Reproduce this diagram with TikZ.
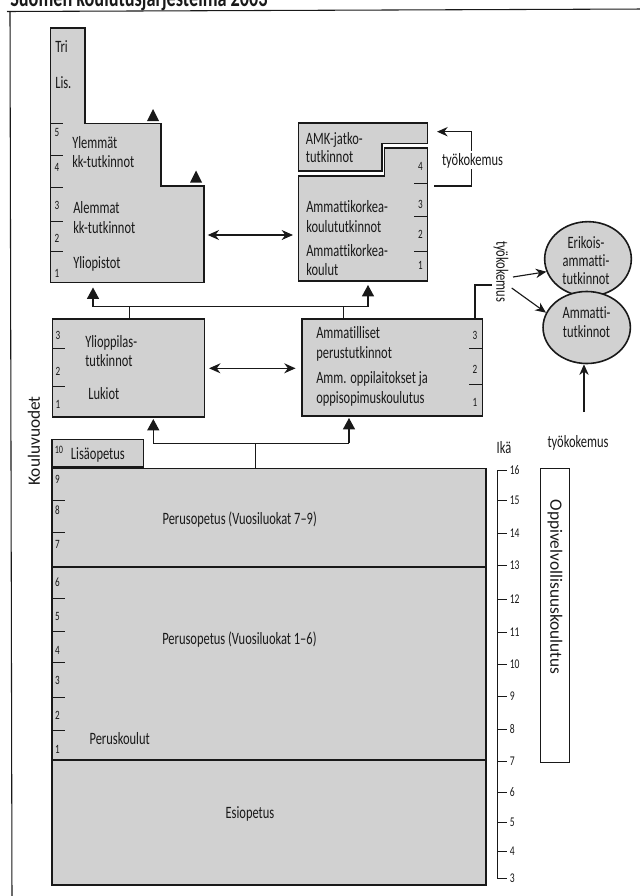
\documentclass[tikz,border=0pt]{standalone}
\usepackage{fontspec}
\setmainfont{Carlito}[FakeStretch=0.72,Ligatures=NoCommon]
\newfontfamily\widefont{Carlito}[Ligatures=NoCommon]
\usetikzlibrary{arrows.meta,shapes.geometric,fit}
\definecolor{boxfill}{gray}{0.82}
\definecolor{ink}{gray}{0.1}
\begin{document}
\begin{tikzpicture}[x=0.75pt,y=-0.75pt,
  blockline/.style={draw=ink,line width=1.2pt,fill=boxfill},
  boxnode/.style={blockline,inner sep=0pt},
  conn/.style={draw=ink,line width=0.85pt},
  uptri/.style={-{Triangle[length=8.5pt,width=9pt]}},
  arr/.style={-{Stealth[length=8pt,width=7pt]}},
  dbl/.style={{Stealth[length=8.5pt,width=7.5pt]}-{Stealth[length=8.5pt,width=7.5pt]}},
  lbl/.style={font=\fontsize{13}{14}\selectfont,text=ink,inner sep=0pt,anchor=west,text height=9pt,text depth=1pt},
  num/.style={font=\fontsize{9.5}{10}\selectfont,text=ink,inner sep=0pt,text height=6.3pt,text depth=0pt},
  yrtick/.style={draw=ink,line width=0.6pt},
]
\useasboundingbox (0,0) rectangle (639,896);

% title and frame
\node[anchor=base west,inner sep=0pt,text=ink,font=\bfseries\fontsize{19}{21}\selectfont] (title) at (10,6) {Suomen koulutusjärjestelmä 2003};
\draw[ink,line width=0.8pt] (7,11.5) -- (645,9);
\draw[ink,line width=0.8pt] (10,11.5) -- (12,900);

% Yliopistot block
\draw[blockline] (50.5,28) -- (85,28) -- (85,123.3) -- (160.7,123.3) -- (160.7,186) -- (203.7,186) -- (203.7,282.3) -- (50.5,282.3) -- cycle;
\coordinate (yliR) at (203.7,235);
\foreach \y in {123.3,155.7,187.7,221.7,251} \draw[yrtick] (50.5,\y) -- (63,\y);
\foreach \n/\y in {5/132,4/167,3/205,2/238,1/273} \node[num] at (57,\y) {\n};
\node[lbl] (tri) at (55,47) {Tri};
\node[lbl] (lis) at (55,83) {Lis.};
\node[lbl] (yl1) at (72,142.7) {Ylemmät};
\node[lbl] (yl2) at (72,162) {kk-tutkinnot};
\node[lbl] (al1) at (73,208) {Alemmat};
\node[lbl] (al2) at (73,227.7) {kk-tutkinnot};
\node[lbl] (yliop) at (73,263) {Yliopistot};
\fill[ink] (147,121) -- (159,121) -- (153,109) -- cycle;
\fill[ink] (190,182.5) -- (202,182.5) -- (196,170.5) -- cycle;

% AMK blocks
\draw[blockline] (298.3,122.7) -- (427.3,122.7) -- (427.3,143.3) -- (381.7,143.3) -- (381.7,171) -- (298.3,171) -- cycle;
\draw[blockline] (298.3,176) -- (384.3,176) -- (384.3,147.7) -- (427.3,147.7) -- (427.3,281) -- (298.3,281) -- cycle;
\coordinate (amkL) at (298.3,235);
\foreach \y in {183.3,216.7,251.7} \draw[yrtick] (414,\y) -- (427.3,\y);
\foreach \n/\y in {4/166,3/204,2/234,1/265.7} \node[num] at (420.5,\y) {\n};
\node[lbl] (amkj1) at (305.7,139) {AMK-jatko-};
\node[lbl] (amkj2) at (305.7,157) {tutkinnot};
\node[lbl] (amk1) at (306,207) {Ammattikorkea-};
\node[lbl] (amk2) at (306,226.7) {koulututkinnot};
\node[lbl] (amk3) at (306,251) {Ammattikorkea-};
\node[lbl] (amk4) at (306,270) {koulut};

\draw[conn,dbl] ([xshift=3pt]yliR) -- ([xshift=-4pt]amkL);

% top tyokokemus bracket
\coordinate (bk1) at (434,186);
\coordinate (bk2) at (471.5,186);
\coordinate (bk3) at (471.5,131.7);
\coordinate (bk4) at (437,131.7);
\draw[conn,arr] (bk1) -- (bk2) -- (bk3) -- (bk4);
\node[lbl,anchor=center,fill=white,inner sep=1.5pt] (tk1) at (472.5,160) {työkokemus};

% middle row
\node[boxnode,fit={(52.3,319) (204.3,416.7)}] (lukiot) {};
\node[boxnode,fit={(301.7,319) (482.3,416)}] (ammat) {};
\foreach \y in {348.3,386} \draw[yrtick] (52.3,\y) -- (65,\y);
\foreach \n/\y in {3/335.7,2/371,1/404} \node[num] at (58,\y) {\n};
\foreach \y in {348.3,384.3} \draw[yrtick] (469,\y) -- (482.3,\y);
\foreach \n/\y in {3/335,2/369,1/402.7} \node[num] at (475,\y) {\n};
\node[lbl] (yo1) at (85,342) {Ylioppilas-};
\node[lbl] (yo2) at (85,360.7) {tutkinnot};
\node[lbl] (luk) at (88,394) {Lukiot};
\node[lbl] (am1) at (316,333) {Ammatilliset};
\node[lbl] (am2) at (316,353) {perustutkinnot};
\node[lbl] (am3) at (316,378) {Amm. oppilaitokset ja};
\node[lbl] (am4) at (316,398) {oppisopimuskoulutus};
\draw[conn,dbl] ([xshift=3pt]lukiot.east |- 0,368.3) -- ([xshift=-4pt]ammat.west |- 0,368.3);

% connectors to upper row
\coordinate (j1) at (93,306.7);
\coordinate (j2) at (368,306.7);
\draw[conn] (j1) -- (j2);
\draw[conn,uptri] (j1) -- (93,287.5);
\draw[conn,uptri] (j2) -- (368,285);
\draw[conn] (lukiot.north -| 129.3,0) -- (129.3,306.7);
\draw[conn] (ammat.north -| 343.5,0) -- (343.5,306.7);

% right: ammattitutkinnot
\coordinate (b1) at (475,285);
\draw[conn] (ammat.north -| b1) -- (b1) -- (491.7,285);
\node[lbl,anchor=center,rotate=-90] (tk2) at (501.7,271.5) {työkokemus};
\node[ellipse,blockline,minimum width=65pt,minimum height=56pt,inner sep=0pt] (erik) at (588,259) {};
\node[ellipse,blockline,minimum width=65.5pt,minimum height=54pt,inner sep=0pt] (amm) at (586.7,327.5) {};
\node[font=\fontsize{13}{13.5}\selectfont,text=ink,align=center,inner sep=0pt] (erikt) at (586,261) {Erikois-\\ammatti-\\tutkinnot};
\node[font=\fontsize{13}{14.2}\selectfont,text=ink,align=center,inner sep=0pt] (ammt) at (586.5,322.5) {Ammatti-\\tutkinnot};
\coordinate (a1) at (513,277);
\coordinate (a2) at (511.7,288);
\draw[conn,arr] (a1) -- (erik.197);
\draw[conn,arr] (a2) -- (amm.160);
\node[lbl,anchor=center] (tk3) at (578,441.7) {työkokemus};
\coordinate (t3top) at (584,412);
\draw[conn,arr] (t3top) -- (t3top |- amm.south);

% lower connectors
\coordinate (j3) at (153.3,443.3);
\coordinate (j4) at (349,443.3);
\draw[conn] (j3) -- (j4);
\draw[conn,uptri] (j3) -- (153.3,419);
\draw[conn,uptri] (j4) -- (349,418);

% basic education
\node[boxnode,fit={(52,439.3) (143.3,467)}] (lisa) {};
\node[num,font=\fontsize{8.5}{9}\selectfont,anchor=west] at (54.5,449) {10};
\node[lbl] (lisat) at (70.7,454) {Lisäopetus};
\node[boxnode,fit={(51.7,468.3) (486,567)}] (perus79) {};
\node[boxnode,fit={(51.7,567) (486,760)}] (perus16) {};
\node[boxnode,fit={(51.7,760) (486,885)}] (esi) {};
\draw[conn] (perus79.north -| 255.7,0) -- (255.7,443.3);
\foreach \y in {500,532.7,598.3,631.7,662.7,697.7,730} \draw[yrtick] (51.7,\y) -- (65,\y);
\foreach \n/\y in {9/479,8/510.7,7/544,6/582.7,5/616.7,4/650.7,3/680,2/715,1/749.3} \node[num] at (57.5,\y) {\n};
\node[lbl] (p79) at (162.3,519) {Perusopetus (Vuosiluokat 7–9)};
\node[lbl] (p16) at (162,639.3) {Perusopetus (Vuosiluokat 1–6)};
\node[lbl] (pk) at (89.3,739) {Peruskoulut};
\node[lbl,anchor=center] (esit) at (250,813.3) {Esiopetus};
\node[rotate=90,text=ink,inner sep=0pt,font=\widefont\fontsize{13}{15}\selectfont] (kv) at (34,441) {Kouluvuodet};

% age scale
\node[lbl,anchor=center] (ika) at (504,447.7) {Ikä};
\draw[ink,line width=0.7pt] (497,470) -- (497,878.3);
\foreach \a/\y in {16/470,15/500.7,14/533.3,13/565.7,12/599,11/632.3,10/664.3,9/696.7,8/729.3,7/761.7,6/792.7,5/822.7,4/851.7,3/878.3}{
  \draw[ink,line width=0.7pt] (497,\y) -- (507,\y);
  \node[num,anchor=west,font=\fontsize{10}{10}\selectfont] at (509.5,\y) {\a};
}
\node[draw=ink,line width=0.6pt,fill=white,fit={(540.7,468.3) (569,762.3)},inner sep=0pt] (oppi) {};
\node[rotate=-90,text=ink,inner sep=0pt,font=\widefont\fontsize{13}{15}\selectfont] (oppit) at (555,587) {Oppivelvollisuuskoulutus};
\end{tikzpicture}
\end{document}
